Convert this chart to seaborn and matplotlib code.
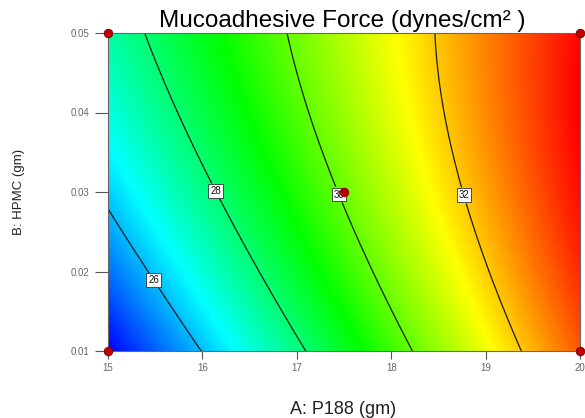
import numpy as np
import matplotlib
matplotlib.use("Agg")
import matplotlib.pyplot as plt
from matplotlib.colors import LinearSegmentedColormap
import seaborn as sns
import pandas as pd

# Factor ranges (actual units)
p188_range = [15.0, 20.0]
hpmc_range = [0.01, 0.05]

# Quadratic response-surface model in coded factors:
# intercept, A, B, A^2, AB, B^2
model_coef = [30.10, 3.822, 1.029, -0.100, -0.6155, -0.349]
contour_levels = [26, 28, 30, 32]

# Design points shown on the plot
design_p188 = [15.0, 15.0, 20.0, 20.0, 17.5]
design_hpmc = [0.01, 0.05, 0.01, 0.05, 0.03]

x_ticks = [15, 16, 17, 18, 19, 20]
y_ticks = [0.01, 0.02, 0.03, 0.04, 0.05]
x_tick_labels = ["15", "16", "17", "18", "19", "20"]
y_tick_labels = ["0.01", "0.02", "0.03", "0.04", "0.05"]

sns.set_style("white")
plt.rcParams["font.family"] = ["Liberation Sans", "DejaVu Sans"]

# Evaluate the model on a fine grid
xs = np.linspace(p188_range[0], p188_range[1], 400)
ys = np.linspace(hpmc_range[0], hpmc_range[1], 400)
X, Y = np.meshgrid(xs, ys)
A = (X - np.mean(p188_range)) / (np.diff(p188_range)[0] / 2)
B = (Y - np.mean(hpmc_range)) / (np.diff(hpmc_range)[0] / 2)
c0, cA, cB, cAA, cAB, cBB = model_coef
Z = c0 + cA * A + cB * B + cAA * A**2 + cAB * A * B + cBB * B**2

cmap = LinearSegmentedColormap.from_list(
    "rainbow5", ["#0000ff", "#00ffff", "#00ff00", "#ffff00", "#ff0000"])

fig = plt.figure(figsize=(5.85, 4.18), dpi=100)
ax = fig.add_axes([108 / 585, 1 - 351 / 418, 472 / 585, 318 / 418])

ax.imshow(Z, origin="lower", cmap=cmap, aspect="auto",
          extent=[p188_range[0], p188_range[1], hpmc_range[0], hpmc_range[1]],
          vmin=Z.min(), vmax=Z.max(), interpolation="bilinear", zorder=0)

cs = ax.contour(X, Y, Z, levels=contour_levels, colors="#1a1a1a",
                linewidths=0.9, zorder=2)
label_spots = [(15.5, 0.0190), (16.15, 0.0302), (17.45, 0.0297), (18.75, 0.0295)]
labels = ax.clabel(cs, manual=label_spots, fmt="%d", fontsize=7,
                   inline=True, inline_spacing=3)
for t in labels:
    t.set_rotation(0)
    t.set_bbox(dict(boxstyle="square,pad=0.2", fc="white", ec="#333333", lw=0.6))
    t.set_color("#111111")
    t.set_zorder(4)

pts = pd.DataFrame({"A": design_p188, "B": design_hpmc})
sns.scatterplot(data=pts, x="A", y="B", ax=ax, s=38, color="#c00000",
                edgecolor="#7a0000", linewidth=0.6, clip_on=False, zorder=10,
                legend=False)

ax.set_xlim(p188_range)
ax.set_ylim(hpmc_range)
ax.set_xticks(x_ticks)
ax.set_xticklabels(x_tick_labels)
ax.set_yticks(y_ticks)
ax.set_yticklabels(y_tick_labels)
ax.set_xlabel("")
ax.set_ylabel("")
ax.tick_params(axis="both", direction="out", width=0.8, color="#555555",
               labelcolor="#666666", labelsize=7)
ax.tick_params(axis="x", bottom=True, length=5.5, pad=3)
ax.tick_params(axis="y", left=True, length=9.5, pad=4)
for sp in ax.spines.values():
    sp.set_color("#666666")
    sp.set_linewidth(0.8)

fig.text(342 / 585, 1 - 27 / 418, "Mucoadhesive Force (dynes/cm\u00b2 )",
         ha="center", va="baseline", fontsize=17.5, color="black")
fig.text(343 / 585, 1 - 410 / 418, "A: P188 (gm)", ha="center", va="center",
         fontsize=13, color="#222222")
fig.text(19 / 585, 1 - 192 / 418, "B: HPMC (gm)", ha="center", va="center",
         rotation=90, fontsize=9.5, color="#222222")

fig.savefig("out.png", dpi=100)
